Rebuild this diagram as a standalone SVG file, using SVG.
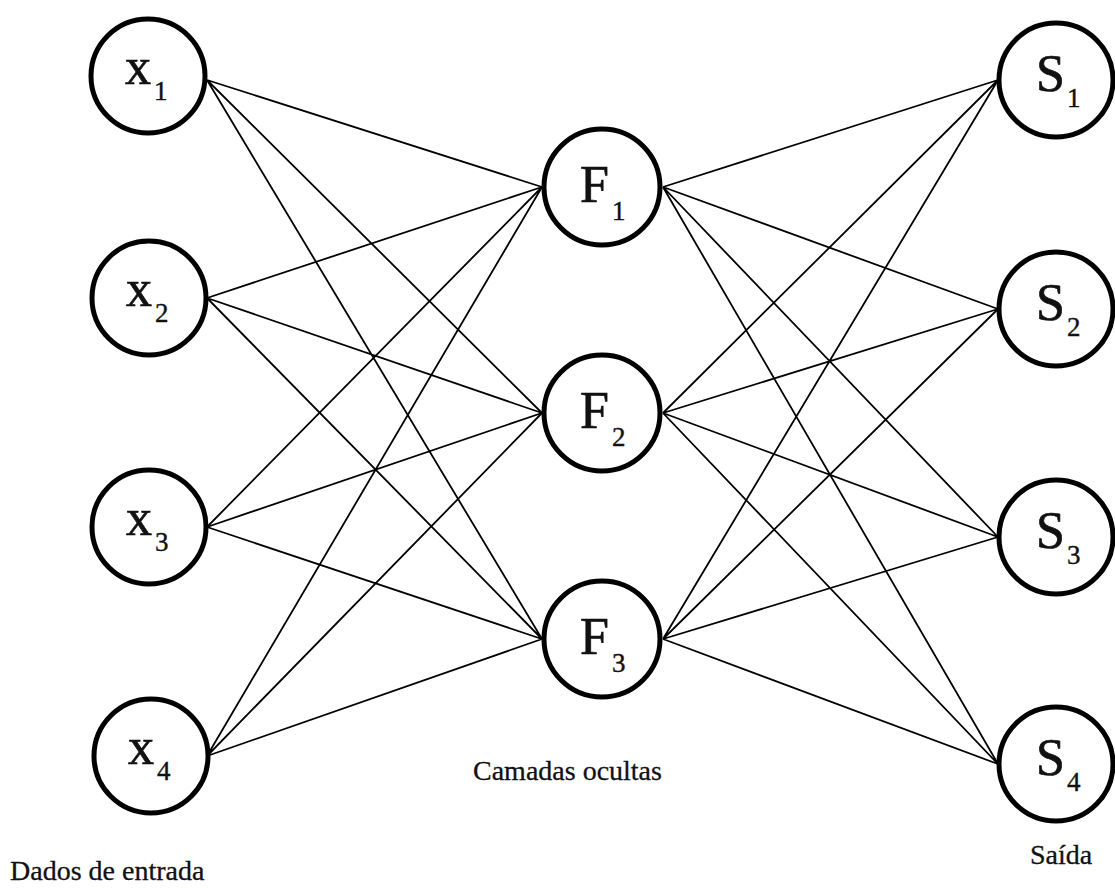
<svg xmlns="http://www.w3.org/2000/svg" width="1115" height="892" viewBox="0 0 1115 892">
<style>
.node{fill:#fff;stroke:#000;stroke-width:5}
.edge{stroke:#000;stroke-width:1.8;fill:none}
text{font-family:'Liberation Serif','Times New Roman','DejaVu Serif',serif;fill:#111;stroke:#111}
.lbl{font-size:52px;stroke-width:0.7}
.sub{font-size:27px;stroke-width:0.4}
.cap{font-size:28px;stroke-width:0.3}
</style>
<rect width="1115" height="892" fill="#fff"/>
<g id="connectors">
<path class="edge" d="M207 80L542 187M207 80L542 413M207 80L542 639
M207 298L542 187M207 298L542 413M207 298L542 639
M207 527L542 187M207 527L542 413M207 527L542 639
M207 756L542 187M207 756L542 413M207 756L542 639
M663 187L998 80M663 187L998 309M663 187L998 537M663 187L998 764
M663 413L998 80M663 413L998 309M663 413L998 537M663 413L998 764
M663 639L998 80M663 639L998 309M663 639L998 537M663 639L998 764"/>
</g>
<g id="x1"><circle class="node" cx="148" cy="76" r="57"/><text class="lbl" x="125" y="84">x</text><text class="sub" x="154" y="100">1</text></g>
<g id="x2"><circle class="node" cx="149" cy="298" r="57"/><text class="lbl" x="126" y="306">x</text><text class="sub" x="155" y="322">2</text></g>
<g id="x3"><circle class="node" cx="149" cy="527" r="57"/><text class="lbl" x="126" y="535">x</text><text class="sub" x="155" y="551">3</text></g>
<g id="x4"><circle class="node" cx="151" cy="756" r="57"/><text class="lbl" x="128" y="764">x</text><text class="sub" x="157" y="780">4</text></g>
<g id="f1"><circle class="node" cx="602" cy="187" r="58"/><text class="lbl" x="580" y="202">F</text><text class="sub" x="612" y="220">1</text></g>
<g id="f2"><circle class="node" cx="602" cy="413" r="58"/><text class="lbl" x="580" y="428">F</text><text class="sub" x="612" y="446">2</text></g>
<g id="f3"><circle class="node" cx="602" cy="639" r="58"/><text class="lbl" x="580" y="654">F</text><text class="sub" x="612" y="672">3</text></g>
<g id="s1"><circle class="node" cx="1056" cy="80" r="57"/><text class="lbl" x="1036" y="91">S</text><text class="sub" x="1067" y="107">1</text></g>
<g id="s2"><circle class="node" cx="1056" cy="309" r="57"/><text class="lbl" x="1036" y="320">S</text><text class="sub" x="1067" y="336">2</text></g>
<g id="s3"><circle class="node" cx="1056" cy="537" r="57"/><text class="lbl" x="1036" y="548">S</text><text class="sub" x="1067" y="564">3</text></g>
<g id="s4"><circle class="node" cx="1056" cy="764" r="57"/><text class="lbl" x="1036" y="775">S</text><text class="sub" x="1067" y="791">4</text></g>
<text class="cap" x="10" y="880">Dados de entrada</text>
<text class="cap" x="473" y="780">Camadas ocultas</text>
<text class="cap" x="1030" y="864">Saída</text>
</svg>
